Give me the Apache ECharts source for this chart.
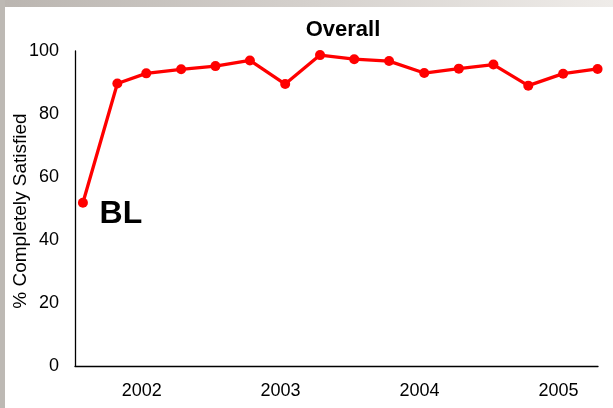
<!DOCTYPE html>
<html>
<head>
<meta charset="utf-8">
<script src="https://cdn.jsdelivr.net/npm/echarts@6/dist/echarts.min.js"></script>
<style>
html,body{margin:0;padding:0;background:#fff;}
#chart{width:613px;height:408px;}
</style>
</head>
<body>
<div id="chart"></div>
<script>
// Survey dates as fractional years (quarterly, BL = baseline)
var surveyTimes = [2001.577, 2001.825, 2002.033, 2002.284, 2002.531, 2002.779, 2003.033, 2003.284,
                   2003.530, 2003.781, 2004.034, 2004.283, 2004.532, 2004.783, 2005.034, 2005.282];
var satisfied = [51.8, 89.7, 92.9, 94.2, 95.2, 97.0, 89.5, 98.7,
                 97.4, 96.8, 93.0, 94.4, 95.7, 89.0, 92.8, 94.3];
var yearTicks = [2002, 2003, 2004, 2005];
var yTicks = [0, 20, 40, 60, 80, 100];
var titleText = 'Overall';
var yTitle = '% Completely Satisfied';
var baselineLabel = 'BL';

var seriesData = surveyTimes.map(function (t, i) { return [t, satisfied[i]]; });
var FONT = 'Liberation Sans, Arial, sans-serif';

var chart = echarts.init(document.getElementById('chart'), null, {renderer: 'canvas'});
chart.setOption({
  animation: false,
  backgroundColor: '#ffffff',
  textStyle: {fontFamily: FONT},
  graphic: [
    {type: 'rect', left: 0, top: 0, z: -10, shape: {width: 613, height: 7},
     style: {fill: new echarts.graphic.LinearGradient(0, 0, 1, 0, [
       {offset: 0, color: '#bab5b0'}, {offset: 1, color: '#efece9'}])}},
    {type: 'rect', left: 0, top: 0, z: -10, shape: {width: 5, height: 408},
     style: {fill: '#bdb9b4'}},
    {type: 'text', x: 21, y: 211, rotation: Math.PI / 2,
     style: {text: yTitle, fill: '#000', fontSize: 19, fontFamily: FONT,
             align: 'center', verticalAlign: 'middle'}}
  ],
  title: {
    text: titleText,
    left: 338, top: 14, textAlign: 'center',
    textStyle: {fontSize: 22, fontWeight: 'bold', color: '#000', fontFamily: FONT}
  },
  grid: {left: 75, right: 15, top: 51, bottom: 42, containLabel: false, outerBoundsMode: 'none'},
  xAxis: {
    type: 'value',
    min: 2001.52, max: 2005.285,
    axisLine: {show: true, lineStyle: {color: '#000', width: 1.3}},
    axisTick: {show: false},
    splitLine: {show: false},
    axisLabel: {
      customValues: yearTicks,
      hideOverlap: false,
      formatter: function (v) { return String(Math.round(v)); },
      fontSize: 18, color: '#000', margin: 16,
      fontFamily: FONT
    }
  },
  yAxis: {
    type: 'value',
    min: yTicks[0], max: yTicks[yTicks.length - 1], interval: 20,
    axisLine: {show: true, lineStyle: {color: '#000', width: 1.3}},
    axisTick: {show: false},
    splitLine: {show: false},
    axisLabel: {fontSize: 18, color: '#000', margin: 16, fontFamily: FONT}
  },
  series: [{
    type: 'line',
    data: seriesData,
    symbol: 'circle', symbolSize: 10,
    lineStyle: {color: '#ff0000', width: 3.3},
    itemStyle: {color: '#ff0000'},
    clip: false,
    label: {show: false},
    markPoint: {
      symbol: 'rect', symbolSize: 0,
      data: [{coord: seriesData[0], value: baselineLabel,
        label: {show: true, formatter: baselineLabel, position: 'inside',
          offset: [38, 11], fontSize: 32, fontWeight: 'bold', color: '#000',
          fontFamily: FONT}}]
    }
  }]
});
</script>
</body>
</html>
